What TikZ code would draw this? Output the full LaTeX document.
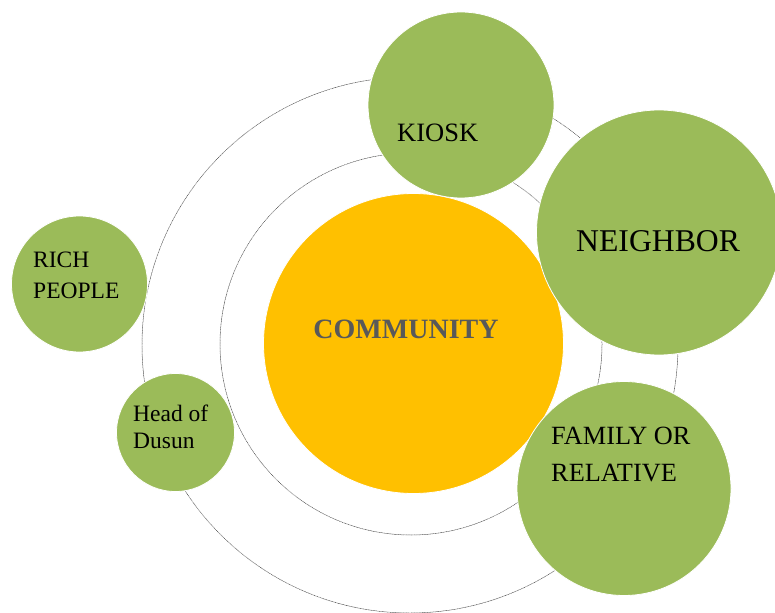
\documentclass[tikz,border=0pt]{standalone}
\usepackage{fontspec}
\setmainfont{Liberation Serif}
\definecolor{leaf}{HTML}{9BBB59}
\definecolor{amber}{HTML}{FFC000}
\definecolor{slate}{HTML}{595959}
\tikzset{
  bubble/.style={circle, fill=leaf, draw=white, line width=0.8pt, inner sep=0pt},
  core/.style={circle, fill=amber, draw=white, line width=0.8pt, inner sep=0pt},
  orbit/.style={black!70, line width=0.5pt, dash pattern=on 0.8pt off 0.8pt},
  lbl/.style={anchor=base west, inner sep=0pt, align=left}
}
\begin{document}
\begin{tikzpicture}[x=1pt, y=-1pt, line join=round, line cap=round]
			\useasboundingbox (0,0) rectangle (775,612);
			% orbits
			\draw[orbit] (411,344) circle (191);
			\draw[orbit] (410,345) circle (268);
			% centre
			\node[core, minimum size=300pt] (community) at (413.5,343.5) {};
			\node[anchor=base, inner sep=0pt, text=slate, font=\fontsize{28}{30}\selectfont\bfseries] (communitytxt) at (406,338) {COMMUNITY};
			% outer bubbles
			\node[bubble, minimum size=186pt] (kiosk) at (461,105) {};
			\node[bubble, minimum size=245pt] (neighbor) at (659,232.5) {};
			\node[bubble, minimum size=214pt] (family) at (624,488.5) {};
			\node[bubble, minimum size=136pt] (rich) at (79.5,284) {};
			\node[bubble, minimum size=118pt] (dusun) at (175.5,432.5) {};
			% texts (multi-line ones sit on their last baseline)
			\node[lbl, font=\fontsize{26.5}{30}\selectfont] (kiosktxt) at (397,142) {KIOSK};
			\node[lbl, font=\fontsize{31.7}{36}\selectfont] (neighbortxt) at (576,251) {NEIGHBOR};
			\node[lbl, font=\fontsize{26.3}{37}\selectfont] (familytxt) at (551,481) {FAMILY OR\\RELATIVE};
			\node[lbl, font=\fontsize{23.5}{31}\selectfont] (richtxt) at (33,298) {RICH\\PEOPLE};
			\node[lbl, font=\fontsize{23.5}{26.5}\selectfont] (dusuntxt) at (133,448) {Head of\\Dusun};
\end{tikzpicture}
\end{document}
